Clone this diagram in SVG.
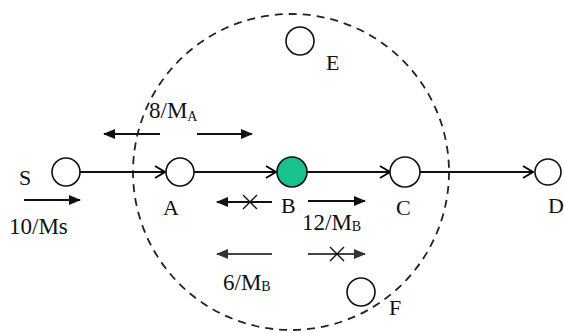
<svg xmlns="http://www.w3.org/2000/svg" width="564" height="333" viewBox="0 0 564 333">
  <defs>
    <marker id="open" viewBox="0 0 12 14" refX="11" refY="7" markerWidth="12" markerHeight="14" markerUnits="userSpaceOnUse" orient="auto">
      <path d="M1,1 L11,7 L1,13" fill="none" stroke="#000" stroke-width="1.8"/>
    </marker>
    <marker id="solid" viewBox="0 0 12 10" refX="11" refY="5" markerWidth="12" markerHeight="10" markerUnits="userSpaceOnUse" orient="auto">
      <path d="M0,0 L12,5 L0,10 Z" fill="#111"/>
    </marker>
    <marker id="solidGray" viewBox="0 0 12 10" refX="11" refY="5" markerWidth="12" markerHeight="10" markerUnits="userSpaceOnUse" orient="auto">
      <path d="M0,0 L12,5 L0,10 Z" fill="#333"/>
    </marker>
  </defs>
  <style>
    .node { fill: #fff; stroke: #111; stroke-width: 1.6; }
    .lbl { font-family: "Liberation Serif", "Times New Roman", serif; font-size: 22px; fill: #111; }
    .rate { font-family: "Liberation Serif", "Times New Roman", serif; font-size: 23px; fill: #111; }
    .sub { font-size: 14px; }
    .flow { stroke: #111; stroke-width: 2; fill: none; marker-end: url(#open); }
    .cap { stroke: #111; stroke-width: 2; fill: none; marker-end: url(#solid); }
    .capg { stroke: #444; stroke-width: 2; fill: none; marker-end: url(#solidGray); }
    .cross { stroke: #111; stroke-width: 1.4; fill: none; }
    .range { fill: none; stroke: #222; stroke-width: 1.8; stroke-dasharray: 8 6; }
  </style>

  <!-- transmission range of B -->
  <circle class="range" cx="291" cy="172" r="158"/>

  <!-- connectors -->
  <g id="connectors">
    <line class="flow" x1="80" y1="172" x2="165" y2="172"/>
    <line class="flow" x1="194" y1="172" x2="276" y2="172"/>
    <line class="flow" x1="307" y1="172" x2="390" y2="172"/>
    <line class="flow" x1="420" y1="172" x2="533" y2="172"/>

    <!-- rate arrows -->
    <line class="cap" x1="24" y1="200" x2="80" y2="200"/>
    <line class="cap" x1="160" y1="134" x2="104" y2="134"/>
    <line class="cap" x1="197" y1="134" x2="252" y2="134"/>
    <line class="cap" x1="272" y1="202" x2="217" y2="202"/>
    <path class="cross" d="M243,195 L257,209 M257,195 L243,209"/>
    <line class="cap" x1="308" y1="201" x2="365" y2="201"/>
    <line class="capg" x1="272" y1="254" x2="217" y2="254"/>
    <line class="capg" x1="308" y1="254" x2="365" y2="254"/>
    <path class="cross" d="M330,247 L344,261 M344,247 L330,261"/>
  </g>

  <!-- nodes -->
  <g id="S"><circle class="node" cx="66" cy="172" r="14"/><text class="lbl" x="19" y="185">S</text></g>
  <g id="A"><circle class="node" cx="180" cy="172" r="14"/><text class="lbl" x="163" y="215">A</text></g>
  <g id="B"><circle cx="292" cy="172" r="15" fill="#17c28f" stroke="#111" stroke-width="1.6"/><text class="lbl" x="281" y="213">B</text></g>
  <g id="C"><circle class="node" cx="405" cy="172" r="15"/><text class="lbl" x="396" y="215">C</text></g>
  <g id="D"><circle class="node" cx="548" cy="172" r="13"/><text class="lbl" x="548" y="213">D</text></g>
  <g id="E"><circle class="node" cx="300" cy="41" r="14"/><text class="lbl" x="326" y="70">E</text></g>
  <g id="F"><circle class="node" cx="361" cy="292" r="14"/><text class="lbl" x="389" y="315">F</text></g>

  <!-- rate labels -->
  <text class="rate" x="9" y="234">10/Ms</text>
  <text class="rate" x="149" y="118">8/M<tspan class="sub" dy="3">A</tspan></text>
  <text class="rate" x="302" y="230">12/M<tspan class="sub" dy="1">B</tspan></text>
  <text class="rate" x="223" y="290">6/M<tspan class="sub" dy="1">B</tspan></text>
</svg>
